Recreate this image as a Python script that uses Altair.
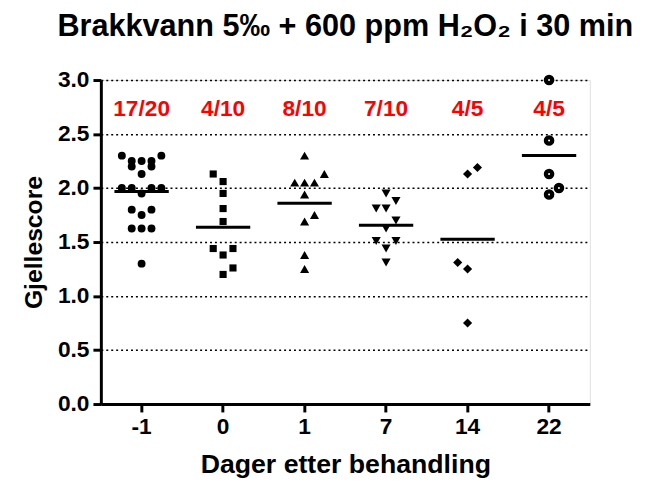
import altair as alt
import pandas as pd

days = ["-1", "0", "1", "7", "14", "22"]
positive = ["17/20", "4/10", "8/10", "7/10", "4/5", "4/5"]

score_m1 = [2.3, 2.3, 2.25, 2.25, 2.25, 2.2, 2.2, 2.13, 2.0, 2.0, 2.0, 2.0, 1.95,
            1.8, 1.8, 1.75, 1.625, 1.625, 1.625, 1.3]
slot_m1 = [-2, 2, -1, 0, 1, -1, 1, 0, -2, -1, 1, 2, 0, -1, 1, 0, -1, 0, 1, 0]
score_0 = [2.13, 2.06, 1.95, 1.81, 1.69, 1.44, 1.44, 1.38, 1.26, 1.2]
slot_0 = [-1, 0, 0, 0, 0, -1, 1, 0, 1, 0]
score_1 = [2.3, 2.13, 2.05, 2.05, 2.05, 1.94, 1.75, 1.69, 1.38, 1.25]
slot_1 = [0, 2, -1, 0, 1, 0, 1, 0, 0, 0]
score_7 = [1.95, 1.88, 1.81, 1.81, 1.70, 1.625, 1.51, 1.51, 1.44, 1.31]
slot_7 = [0, 1, -1, 0, 1, 0, -1, 1, 0, 0]
score_14 = [2.19, 2.13, 1.31, 1.25, 0.75]
slot_14 = [1, 0, -1, 0, 0]
score_22 = [3.0, 2.44, 2.13, 2.0, 1.94]
slot_22 = [0, 0, 0, 1, 0]

groups = [(days[0], score_m1, slot_m1), (days[1], score_0, slot_0),
          (days[2], score_1, slot_1), (days[3], score_7, slot_7),
          (days[4], score_14, slot_14), (days[5], score_22, slot_22)]
rows = []
for d, sc, sl in groups:
    for s, o in zip(sc, sl):
        rows.append({"day": d, "score": s, "slot": o})
df = pd.DataFrame(rows)
lab = pd.DataFrame({"day": days, "label": positive, "ypos": [2.73] * 6})

FONT = "Liberation Sans"

xenc = alt.X("day:N", sort=days, title="Dager etter behandling",
             scale=alt.Scale(paddingInner=0, paddingOuter=0),
             axis=alt.Axis(labelAngle=0, labelFont=FONT, labelFontWeight="bold",
                           labelFontSize=23, labelColor="black", labelPadding=4,
                           titleFont=FONT, titleFontWeight="bold", titleFontSize=27,
                           titleColor="black", titlePadding=13,
                           domainColor="black", domainWidth=3,
                           tickColor="black", tickWidth=3, tickSize=8, grid=False))
yscale = alt.Scale(domain=[0, 3], nice=False, zero=True)
yaxis = alt.Axis(values=[0, 0.5, 1.0, 1.5, 2.0, 2.5, 3.0], format=".1f",
                 labelFont=FONT, labelFontWeight="bold", labelFontSize=23,
                 labelColor="black", labelPadding=4,
                 titleFont=FONT, titleFontWeight="bold", titleFontSize=25,
                 titleColor="black", titlePadding=11,
                 domainColor="black", domainWidth=3,
                 tickColor="black", tickWidth=3, tickSize=8,
                 grid=True, gridColor="black", gridDash=[2, 3], gridWidth=1.5)

xoff = alt.XOffset("slot:Q", scale=alt.Scale(domain=[-4.125, 4.125]))
base = alt.Chart(df)

size_rule = (alt.when(alt.datum.day == "22").then(alt.value(115))
             .when(alt.datum.day == "0").then(alt.value(52))
             .when(alt.datum.day == "-1").then(alt.value(64))
             .otherwise(alt.value(85)))

points = base.mark_point(filled=True, opacity=1).encode(
    x=xenc,
    xOffset=xoff,
    y=alt.Y("score:Q", scale=yscale, axis=yaxis, title="Gjellescore"),
    shape=alt.Shape("day:N", scale=alt.Scale(domain=days, range=[
        "circle", "square", "triangle-up", "triangle-down", "diamond", "circle"]),
        legend=None),
    size=size_rule,
    color=alt.value("black"),
)

dots = base.transform_filter(alt.datum.day == "22").mark_point(
    filled=True, opacity=1, color="white", size=4, shape="circle").encode(
    x=alt.X("day:N", sort=days),
    xOffset=xoff,
    y=alt.Y("score:Q", scale=yscale),
)

means = base.mark_tick(color="black", size=55, thickness=3, opacity=1).encode(
    x=alt.X("day:N", sort=days),
    y=alt.Y("mean(score):Q", scale=yscale),
)

labels = alt.Chart(lab).mark_text(color="#ff0000", font=FONT, fontWeight="bold",
                                  fontSize=23, baseline="middle").encode(
    x=alt.X("day:N", sort=days),
    y=alt.Y("ypos:Q", scale=yscale),
    text="label:N",
)

chart = alt.layer(points, dots, means, labels).properties(
    width=495, height=328,
    title=alt.TitleParams(text="Brakkvann 5‰ + 600 ppm H₂O₂ i 30 min",
                          font=FONT, fontWeight="bold", fontSize=31,
                          color="black", anchor="middle", offset=27),
    autosize=alt.AutoSizeParams(type="none"),
    padding={"left": 94, "top": 70, "right": 67, "bottom": 77},
).configure_view(stroke=None).configure(background="white")

chart.save("out.html", embed_options={"renderer": "svg", "actions": False})
